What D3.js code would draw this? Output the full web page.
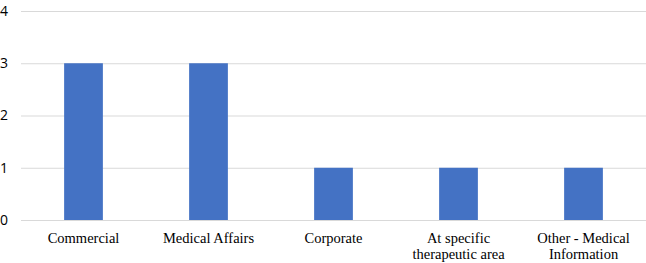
<!DOCTYPE html>
<html>
<head>
<meta charset="utf-8">
<script src="https://cdn.jsdelivr.net/npm/d3@7"></script>
<style>
  body { margin: 0; background: #fff; font: 14.5px 'Liberation Serif'; }
  svg { display: block; }
</style>
</head>
<body>
<div id="container"></div>
<script>
// datos del gráfico
const categories = [
  ["Commercial"],
  ["Medical Affairs"],
  ["Corporate"],
  ["At specific", "therapeutic area"],
  ["Other - Medical", "Information"]
];
const values = [3, 3, 1, 1, 1];
const yTicks = [0, 1, 2, 3, 4];

const WIDTH = 646, HEIGHT = 263;
const margin = { left: 21, right: 0, top: 11, bottom: 43 };
const width = WIDTH - margin.left - margin.right,
      height = HEIGHT - margin.top - margin.bottom;

const svg = d3.select('#container').append('svg')
  .attr('width', WIDTH).attr('height', HEIGHT);

const g = svg.append('g')
  .attr('transform', `translate(${margin.left},${margin.top})`);

const x = d3.scaleBand()
  .domain(d3.range(categories.length))
  .range([0, width])
  .paddingInner(0.69)
  .paddingOuter(0.345);

const y = d3.scaleLinear().domain([0, 4]).range([height, 0]);

// líneas de la cuadrícula
const ya = g.append('g')
  .call(d3.axisLeft(y).tickValues(yTicks).tickSize(-width).tickFormat(d3.format('d')))
  .attr('font-family', 'Open Sans')
  .attr('font-size', 14);
ya.select('.domain').remove();
ya.selectAll('.tick line').attr('stroke', '#d9d9d9').attr('stroke-width', 1);
ya.selectAll('.tick text')
  .attr('fill', '#000')
  .attr('text-anchor', 'start')
  .attr('x', -margin.left);

// barras
g.selectAll('rect.bar')
  .data(values)
  .join('rect')
  .attr('x', (d, i) => x(i))
  .attr('width', x.bandwidth())
  .attr('y', d => y(d))
  .attr('height', d => height - y(d))
  .attr('fill', '#4472c4');

// etiquetas de categorías
const labels = g.append('g')
  .attr('font-family', 'Liberation Serif')
  .attr('font-size', 14.5)
  .selectAll('text')
  .data(categories)
  .join('text')
  .attr('fill', '#000')
  .attr('text-anchor', 'middle')
  .attr('transform', (d, i) => `translate(${x(i) + x.bandwidth() / 2},${height + 23})`);

labels.selectAll('tspan')
  .data(d => d)
  .join('tspan')
  .attr('x', 0)
  .attr('dy', (d, i) => i === 0 ? 0 : 15.5)
  .text(d => d);
</script>
</body>
</html>
